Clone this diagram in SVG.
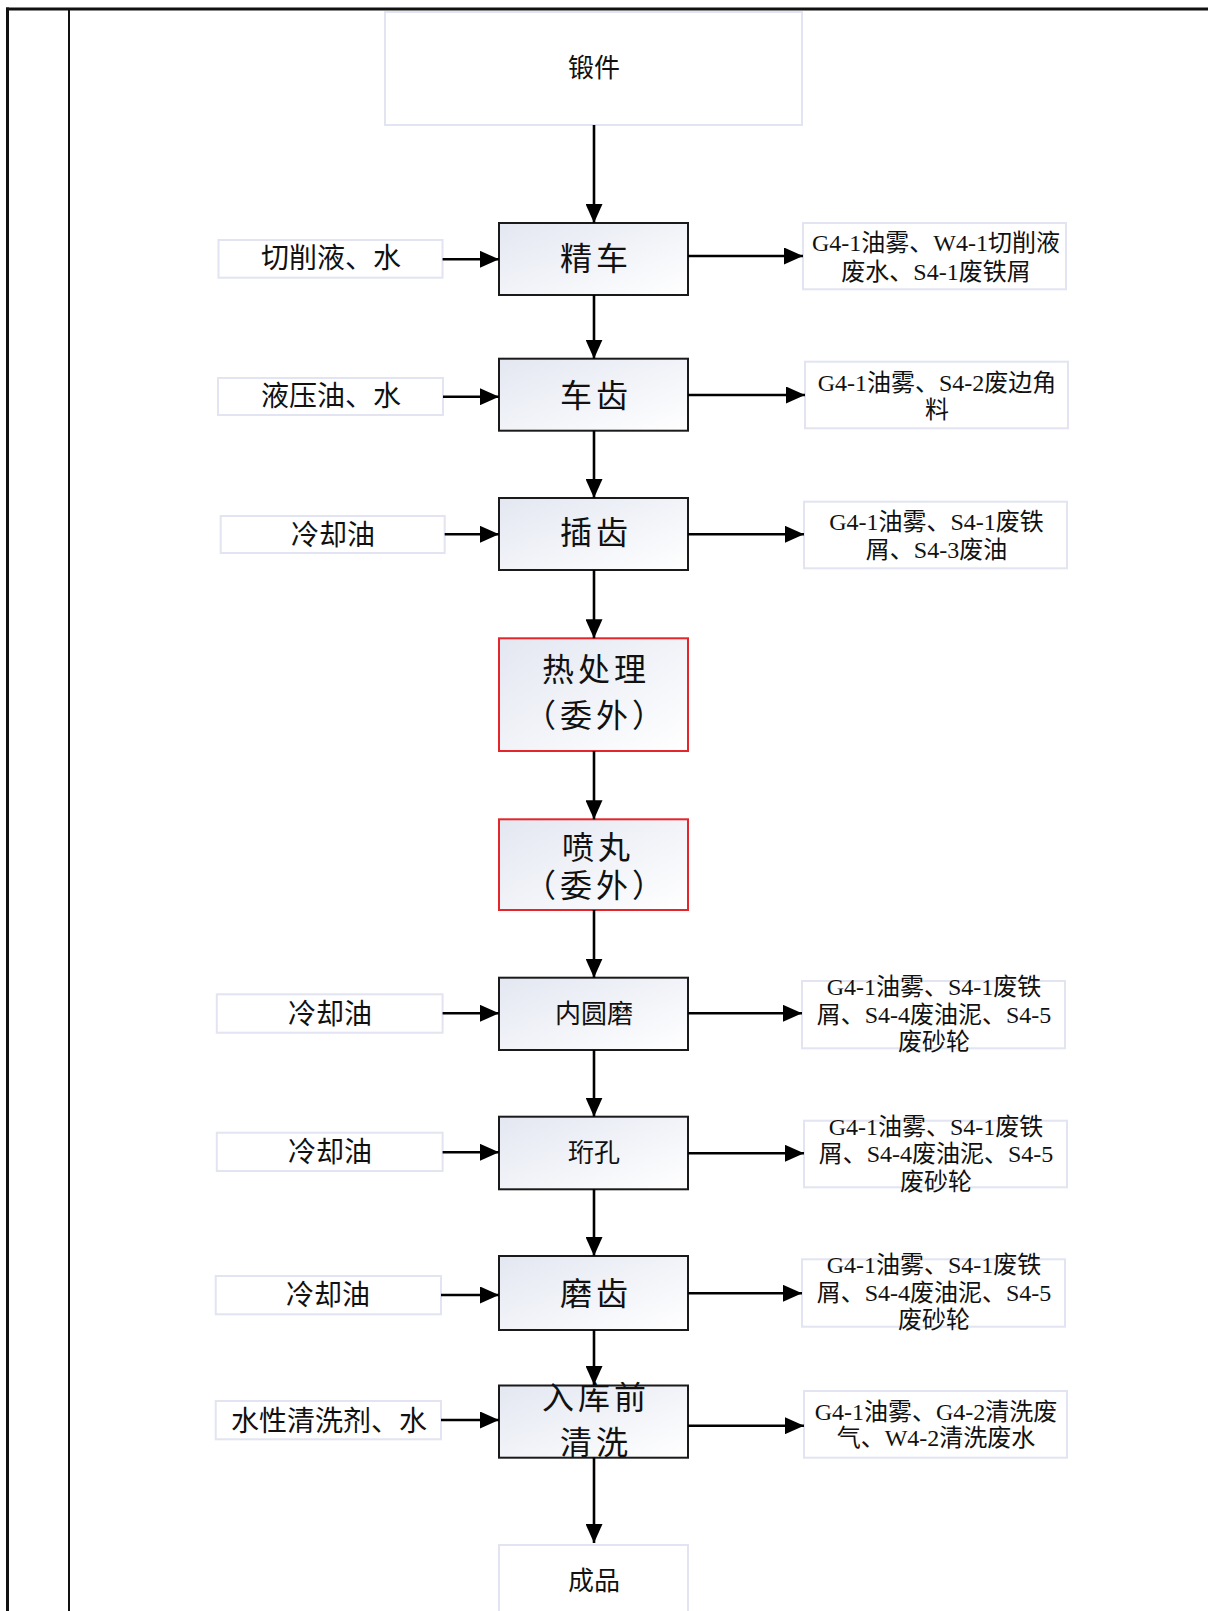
<svg xmlns="http://www.w3.org/2000/svg" width="1208" height="1611" viewBox="0 0 1208 1611">
<style>
text{font-family:"Liberation Serif","Noto Sans CJK SC",serif;fill:#111;text-anchor:middle;dominant-baseline:central}
.pb{fill:url(#g);stroke:#1a1a1a;stroke-width:2}
.rb{fill:url(#g);stroke:#e3262b;stroke-width:2}
.lb{fill:#fff;stroke:#e2e4f1;stroke-width:2}
.big{font-size:32px;letter-spacing:4px}
.mid{font-size:26px}
.in{font-size:28px}
.out{font-size:24px}
.frame{stroke:#111;fill:none}
#connectors line{stroke:#000;stroke-width:2.6;marker-end:url(#ah)}
</style>
<defs>
<linearGradient id="g" x1="0" y1="0" x2="1" y2="1">
<stop offset="0" stop-color="#e3e7f1"/>
<stop offset="1" stop-color="#ffffff"/>
</linearGradient>
<marker id="ah" markerUnits="userSpaceOnUse" markerWidth="19" markerHeight="17" refX="19" refY="8.5" orient="auto">
<path d="M0,0 L19,8.5 L0,17 z" fill="#000"/>
</marker>
</defs>
<rect width="1208" height="1611" fill="#fff"/>
<g id="frame">
<line class="frame" x1="6" y1="9" x2="1208" y2="9" stroke-width="3"/>
<line class="frame" x1="7.5" y1="7.5" x2="7.5" y2="1611" stroke-width="3"/>
<line class="frame" x1="69" y1="9" x2="69" y2="1611" stroke-width="2"/>
</g>

<g id="n-duanjian"><rect class="lb" x="385" y="12" width="417" height="113"/><text class="mid" x="594" y="68">锻件</text></g>

<g id="n-jingche"><rect class="pb" x="499" y="223" width="189" height="72"/><text class="big" x="596" y="259">精车</text></g>
<g id="n-chechi"><rect class="pb" x="499" y="358.7" width="189" height="72"/><text class="big" x="596" y="396">车齿</text></g>
<g id="n-chachi"><rect class="pb" x="499" y="498" width="189" height="72"/><text class="big" x="596" y="533">插齿</text></g>
<g id="n-rechuli"><rect class="rb" x="499" y="638.3" width="189" height="112.7"/><text class="big" x="596" y="670">热处理</text><text class="big" x="596" y="716">（委外）</text></g>
<g id="n-penwan"><rect class="rb" x="499" y="819.3" width="189" height="90.7"/><text class="big" x="598" y="848">喷丸</text><text class="big" x="596" y="886">（委外）</text></g>
<g id="n-neiyuanmo"><rect class="pb" x="499" y="977.7" width="189" height="72.3"/><text class="mid" x="594" y="1014">内圆磨</text></g>
<g id="n-hengkong"><rect class="pb" x="499" y="1116.7" width="189" height="72.6"/><text class="mid" x="594" y="1153">珩孔</text></g>
<g id="n-mochi"><rect class="pb" x="499" y="1256" width="189" height="74"/><text class="big" x="596" y="1294">磨齿</text></g>
<g id="n-qingxi"><rect class="pb" x="499" y="1385.5" width="189" height="72.2"/><text class="big" x="596" y="1398">入库前</text><text class="big" x="596" y="1443">清洗</text></g>
<g id="n-chengpin"><rect class="lb" x="499" y="1545" width="189" height="80"/><text class="mid" x="594" y="1581">成品</text></g>

<g id="n-in1"><rect class="lb" x="218.5" y="240" width="224" height="37.7"/><text class="in" x="331" y="258">切削液、水</text></g>
<g id="n-in2"><rect class="lb" x="218" y="378" width="225" height="37"/><text class="in" x="331" y="396.5">液压油、水</text></g>
<g id="n-in3"><rect class="lb" x="220.7" y="516" width="224" height="37"/><text class="in" x="333" y="535">冷却油</text></g>
<g id="n-in4"><rect class="lb" x="216.8" y="994.3" width="225.8" height="38.4"/><text class="in" x="330" y="1014">冷却油</text></g>
<g id="n-in5"><rect class="lb" x="216.8" y="1132.7" width="225.8" height="38.3"/><text class="in" x="330" y="1152">冷却油</text></g>
<g id="n-in6"><rect class="lb" x="215.7" y="1276" width="225.3" height="38.3"/><text class="in" x="328" y="1295">冷却油</text></g>
<g id="n-in7"><rect class="lb" x="215.7" y="1401" width="225.3" height="38.3"/><text class="in" x="329" y="1421">水性清洗剂、水</text></g>

<g id="n-out1"><rect class="lb" x="803" y="223" width="263" height="66.3"/><text class="out" x="936" y="243.3">G4-1油雾、W4-1切削液</text><text class="out" x="936" y="271.7">废水、S4-1废铁屑</text></g>
<g id="n-out2"><rect class="lb" x="805" y="361.7" width="263" height="66.6"/><text class="out" x="937" y="383.3">G4-1油雾、S4-2废边角</text><text class="out" x="937" y="410">料</text></g>
<g id="n-out3"><rect class="lb" x="804" y="501.7" width="263" height="66.6"/><text class="out" x="936.5" y="521.7">G4-1油雾、S4-1废铁</text><text class="out" x="936.5" y="550">屑、S4-3废油</text></g>
<g id="n-out4"><rect class="lb" x="802" y="981" width="263" height="67.3"/><text class="out" x="934" y="986.7">G4-1油雾、S4-1废铁</text><text class="out" x="934" y="1015">屑、S4-4废油泥、S4-5</text><text class="out" x="934" y="1041.7">废砂轮</text></g>
<g id="n-out5"><rect class="lb" x="804" y="1120.7" width="263" height="66.6"/><text class="out" x="936" y="1126.7">G4-1油雾、S4-1废铁</text><text class="out" x="936" y="1154.3">屑、S4-4废油泥、S4-5</text><text class="out" x="936" y="1181.7">废砂轮</text></g>
<g id="n-out6"><rect class="lb" x="802" y="1259.3" width="263" height="67.4"/><text class="out" x="934" y="1265">G4-1油雾、S4-1废铁</text><text class="out" x="934" y="1293.3">屑、S4-4废油泥、S4-5</text><text class="out" x="934" y="1320">废砂轮</text></g>
<g id="n-out7"><rect class="lb" x="804" y="1391" width="263" height="66.7"/><text class="out" x="936" y="1411.7">G4-1油雾、G4-2清洗废</text><text class="out" x="936" y="1438.3">气、W4-2清洗废水</text></g>

<g id="connectors">
<line x1="594" y1="125" x2="594" y2="223"/>
<line x1="594" y1="295" x2="594" y2="358.7"/>
<line x1="594" y1="430.7" x2="594" y2="498"/>
<line x1="594" y1="570" x2="594" y2="638.3"/>
<line x1="594" y1="751" x2="594" y2="819.3"/>
<line x1="594" y1="910" x2="594" y2="977.7"/>
<line x1="594" y1="1050" x2="594" y2="1116.7"/>
<line x1="594" y1="1189.3" x2="594" y2="1256"/>
<line x1="594" y1="1330" x2="594" y2="1385"/>
<line x1="594" y1="1457.7" x2="594" y2="1543"/>

<line x1="442.6" y1="259.3" x2="499" y2="259.3"/>
<line x1="443" y1="396.7" x2="499" y2="396.7"/>
<line x1="444.7" y1="534.3" x2="499" y2="534.3"/>
<line x1="442.6" y1="1013.3" x2="499" y2="1013.3"/>
<line x1="442.6" y1="1152.3" x2="499" y2="1152.3"/>
<line x1="441" y1="1295" x2="499" y2="1295"/>
<line x1="441" y1="1420" x2="499" y2="1420"/>

<line x1="688" y1="256" x2="803" y2="256"/>
<line x1="688" y1="395" x2="805" y2="395"/>
<line x1="688" y1="534.3" x2="804" y2="534.3"/>
<line x1="688" y1="1013.3" x2="802" y2="1013.3"/>
<line x1="688" y1="1153.3" x2="804" y2="1153.3"/>
<line x1="688" y1="1293.3" x2="802" y2="1293.3"/>
<line x1="688" y1="1425.7" x2="804" y2="1425.7"/>
</g>
</svg>
